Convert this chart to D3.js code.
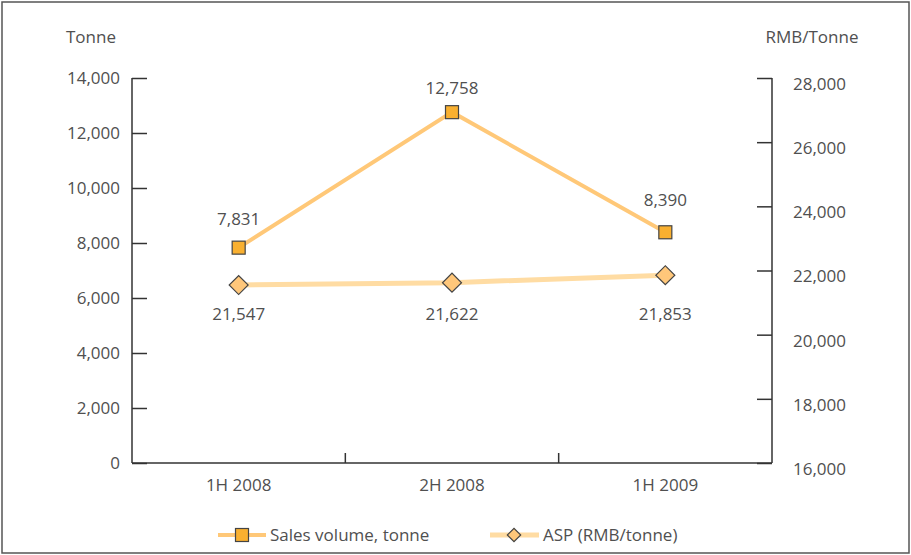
<!DOCTYPE html>
<html>
<head>
<meta charset="utf-8">
<script src="https://cdn.jsdelivr.net/npm/d3@7"></script>
<style>
  body { margin: 0; background: #fff; }
  text { font-family: "Open Sans", "Noto Sans", sans-serif; fill: #505050; }
</style>
</head>
<body>
<script>
// chart data
const periods = ["1H 2008", "2H 2008", "1H 2009"];
const salesVolume = [7831, 12758, 8390];
const aspValues = [21547, 21622, 21853];
const leftTicks = [0, 2000, 4000, 6000, 8000, 10000, 12000, 14000];
const rightTicks = [16000, 18000, 20000, 22000, 24000, 26000, 28000];

const width = 911, height = 555;
const margin = { top: 78, right: 139, bottom: 92, left: 132 };
const fmt = d3.format(",");
const fs = 17;

const svg = d3.select("body").append("svg")
    .attr("width", width)
    .attr("height", height);

// outer frame
svg.append("rect")
    .attr("x", 2).attr("y", 2)
    .attr("width", width - 4).attr("height", height - 4)
    .attr("fill", "none").attr("stroke", "#555").attr("stroke-width", 1.5);

const x = d3.scaleBand().domain(periods)
    .range([margin.left, width - margin.right]);
const yL = d3.scaleLinear().domain([0, 14000])
    .range([height - margin.bottom, margin.top]);
const yR = d3.scaleLinear().domain([16000, 28000])
    .range([height - margin.bottom, margin.top]);
const cx = d => x(d) + x.bandwidth() / 2;

// left axis, ticks pointing inward
const gL = svg.append("g").attr("transform", `translate(${margin.left},0)`)
    .call(d3.axisLeft(yL).tickValues(leftTicks).tickFormat(fmt).tickSize(-15).tickPadding(12));
// right axis
const gR = svg.append("g").attr("transform", `translate(${width - margin.right},0)`)
    .call(d3.axisRight(yR).tickValues(rightTicks).tickFormat(fmt).tickSize(-15).tickPadding(21));
// bottom axis with boundary ticks
const gB = svg.append("g").attr("transform", `translate(0,${height - margin.bottom})`)
    .call(d3.axisBottom(x).tickSize(0).tickPadding(16));
gB.selectAll(".bt").data(x.domain().slice(1))
    .enter().append("line").attr("class", "bt")
    .attr("x1", d => x(d)).attr("x2", d => x(d))
    .attr("y1", 0).attr("y2", -10)
    .attr("stroke", "#333").attr("stroke-width", 1.5);

[gL, gR, gB].forEach(g => {
  g.select(".domain").attr("stroke", "#333").attr("stroke-width", 1.5);
  g.selectAll(".tick line").attr("stroke", "#333").attr("stroke-width", 1.5);
  g.selectAll("text").attr("font-size", fs).attr("fill", "#505050")
    .attr("font-family", '"Open Sans", "Noto Sans", sans-serif');
});
// right-hand labels sit a little below their ticks
gR.selectAll(".tick text").attr("y", 6);
gL.select(".domain").attr("d", `M0,${margin.top}V${height - margin.bottom}`);
gR.select(".domain").attr("d", `M0,${margin.top}V${height - margin.bottom}`);
gB.select(".domain").attr("d", `M${margin.left},0H${width - margin.right}`);

// axis titles
svg.append("text").attr("x", 91).attr("y", 43).attr("text-anchor", "middle")
    .attr("font-size", fs).text("Tonne");
svg.append("text").attr("x", 812).attr("y", 43).attr("text-anchor", "middle")
    .attr("font-size", fs).text("RMB/Tonne");

const salesColor = "#FFC878", salesFill = "#F9B030";
const aspColor = "#FFDCA3", aspFill = "#FFC77A";

// ASP line
svg.append("path").datum(aspValues)
    .attr("d", d3.line().x((d, i) => cx(periods[i])).y(d => yR(d)))
    .attr("fill", "none").attr("stroke", aspColor).attr("stroke-width", 5);
// sales line
svg.append("path").datum(salesVolume)
    .attr("d", d3.line().x((d, i) => cx(periods[i])).y(d => yL(d)))
    .attr("fill", "none").attr("stroke", salesColor).attr("stroke-width", 4);

// markers
const diamond = d3.symbol().type(d3.symbolSquare).size(180);
svg.selectAll(".asp").data(aspValues).enter().append("path")
    .attr("d", diamond)
    .attr("transform", (d, i) => `translate(${cx(periods[i])},${yR(d)}) rotate(45)`)
    .attr("fill", aspFill).attr("stroke", "#444").attr("stroke-width", 1.2);
svg.selectAll(".sq").data(salesVolume).enter().append("rect")
    .attr("x", (d, i) => cx(periods[i]) - 6.5)
    .attr("y", d => yL(d) - 6.5)
    .attr("width", 13).attr("height", 13)
    .attr("fill", salesFill).attr("stroke", "#444").attr("stroke-width", 1.2);

// value labels (label gaps as placed in the original)
const salesGap = [23, 18, 26];
svg.selectAll(".sl").data(salesVolume).enter().append("text")
    .attr("x", (d, i) => cx(periods[i])).attr("y", (d, i) => yL(d) - salesGap[i])
    .attr("text-anchor", "middle").attr("font-size", fs).text(fmt);
const aspRow = yR(d3.min(aspValues)) + 35;
svg.selectAll(".al").data(aspValues).enter().append("text")
    .attr("x", (d, i) => cx(periods[i])).attr("y", aspRow)
    .attr("text-anchor", "middle").attr("font-size", fs).text(fmt);

// legend
const leg = svg.append("g").attr("transform", "translate(0,535)");
leg.append("line").attr("x1", 218).attr("x2", 266).attr("y1", 0).attr("y2", 0)
    .attr("stroke", salesColor).attr("stroke-width", 4);
leg.append("rect").attr("x", 235.5).attr("y", -6.5).attr("width", 13).attr("height", 13)
    .attr("fill", salesFill).attr("stroke", "#444").attr("stroke-width", 1.2);
leg.append("text").attr("x", 270).attr("y", 6).attr("font-size", fs).text("Sales volume, tonne");
leg.append("line").attr("x1", 490).attr("x2", 539).attr("y1", 0).attr("y2", 0)
    .attr("stroke", aspColor).attr("stroke-width", 5);
leg.append("path").attr("d", d3.symbol().type(d3.symbolSquare).size(90))
    .attr("transform", "translate(514,0) rotate(45)")
    .attr("fill", aspFill).attr("stroke", "#444").attr("stroke-width", 1.2);
leg.append("text").attr("x", 543).attr("y", 6).attr("font-size", fs).text("ASP (RMB/tonne)");
</script>
</body>
</html>
